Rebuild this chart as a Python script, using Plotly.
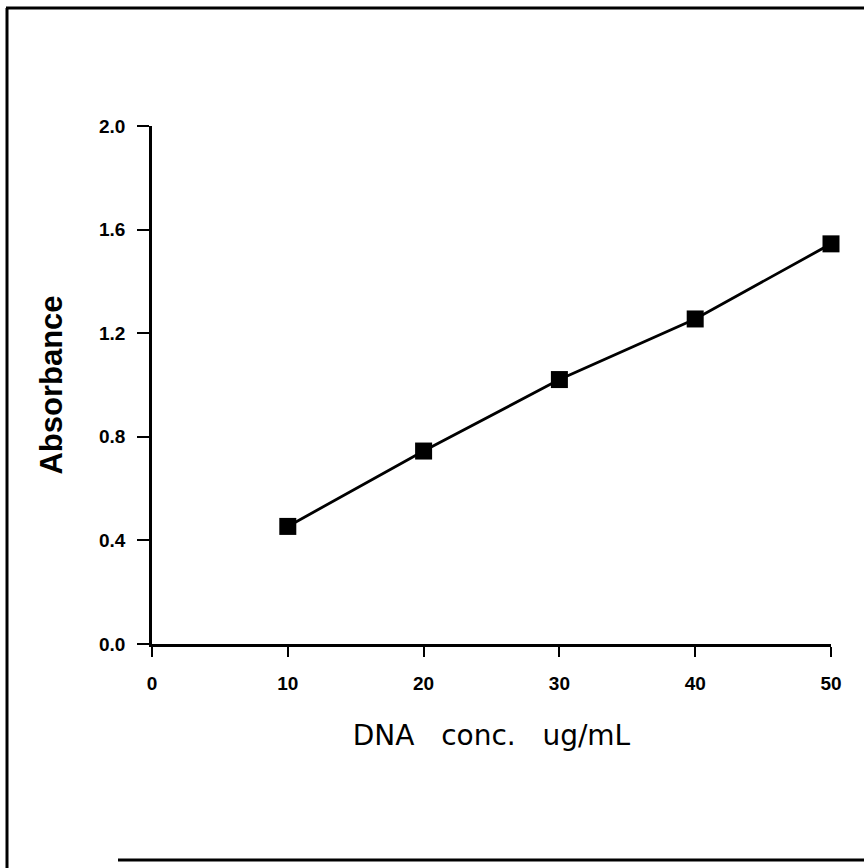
import plotly.graph_objects as go

# Calibration data: DNA concentration vs absorbance
conc = [10, 20, 30, 40, 50]
absorbance = [0.454, 0.745, 1.021, 1.255, 1.545]

x_ticks = [0, 10, 20, 30, 40, 50]
y_ticks = [0.0, 0.4, 0.8, 1.2, 1.6, 2.0]
y_tick_text = ["0.0", "0.4", "0.8", "1.2", "1.6", "2.0"]

W, H = 864, 868
L, R, T, B = 152, 33, 126, 224
PW, PH = W - L - R, H - T - B


def px(x):
    return (x - L) / PW


def py(y):
    return (H - B - y) / PH


fig = go.Figure()
fig.add_trace(go.Scatter(
    x=conc, y=absorbance, mode="lines+markers",
    line=dict(color="black", width=2.8),
    marker=dict(symbol="square", size=17, color="black"),
    showlegend=False, cliponaxis=False,
))

tick_font = dict(family="Liberation Sans", size=19, color="black", weight="bold")

fig.update_xaxes(
    range=[0, 50], tickvals=x_ticks, ticktext=[str(v) for v in x_ticks],
    showgrid=False, zeroline=False, showline=True, linecolor="black", linewidth=2.8,
    ticks="outside", ticklen=10, tickwidth=2, tickcolor="black",
    tickfont=tick_font, ticklabelstandoff=10,
    title=dict(text="DNA   conc.   ug/mL",
               font=dict(family="DejaVu Sans", size=28, color="black"), standoff=33),
)
fig.update_yaxes(
    range=[0, 2.0], tickvals=y_ticks, ticktext=y_tick_text,
    showgrid=False, zeroline=False, showline=True, linecolor="black", linewidth=2.8,
    ticks="outside", ticklen=12, tickwidth=2, tickcolor="black",
    tickfont=tick_font, ticklabelstandoff=8,
    title=dict(text="Absorbance",
               font=dict(family="Liberation Sans", size=31, color="black", weight="bold"), standoff=28),
)

# outer frame of the figure
frame = dict(type="line", xref="paper", yref="paper", line=dict(color="black", width=3), layer="above")
fig.add_shape(**frame, x0=px(6), x1=px(864), y0=py(8), y1=py(8))
fig.add_shape(**frame, x0=px(7), x1=px(7), y0=py(8), y1=py(868))
fig.add_shape(**frame, x0=px(118), x1=px(864), y0=py(860), y1=py(860))

fig.update_layout(
    width=W, height=H,
    margin=dict(l=L, r=R, t=T, b=B),
    paper_bgcolor="white", plot_bgcolor="white",
    font=dict(family="Liberation Sans", color="black"),
)

fig.write_html("out.html")
